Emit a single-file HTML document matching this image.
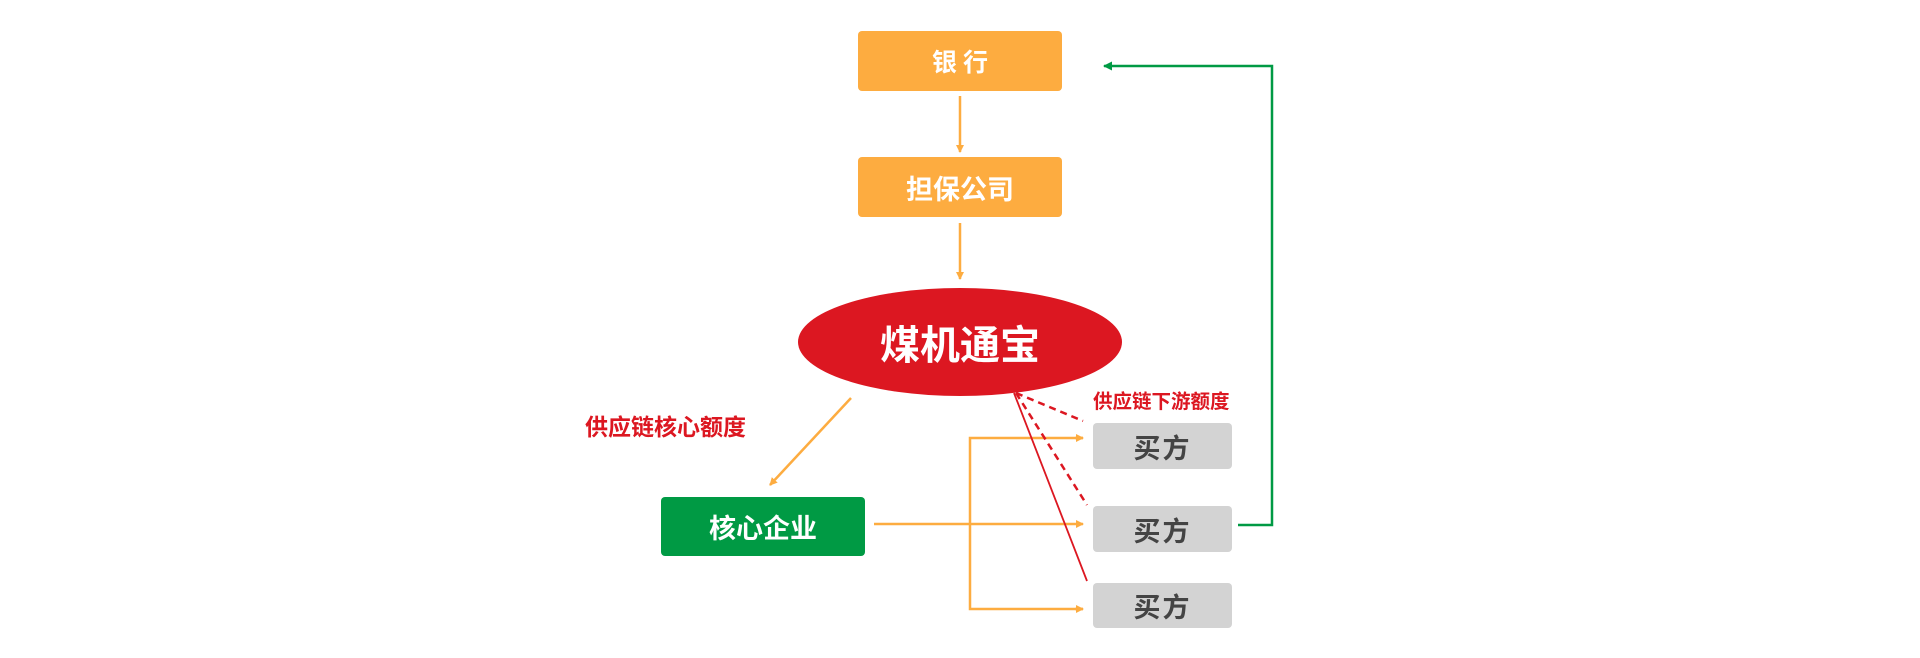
<!DOCTYPE html>
<html><head><meta charset="utf-8"><style>
html,body{margin:0;padding:0;background:#fff;}
body{width:1920px;height:658px;position:relative;overflow:hidden;font-family:"Liberation Sans","Noto Sans CJK SC",sans-serif;}
.b{position:absolute;display:flex;align-items:center;justify-content:center;font-weight:bold;border-radius:4px;}
.t{position:absolute;font-weight:bold;color:#DC1721;white-space:nowrap;}
</style></head><body>
<svg width="1920" height="658" style="position:absolute;left:0;top:0">
<defs>
<marker id="ao" markerWidth="8" markerHeight="8" refX="7" refY="4" orient="auto" markerUnits="userSpaceOnUse"><path d="M0,0 L8,4 L0,8 z" fill="#FDAC40"/></marker>
<marker id="ag" markerWidth="9" markerHeight="9" refX="8" refY="4.5" orient="auto" markerUnits="userSpaceOnUse"><path d="M0,0 L9,4.5 L0,9 z" fill="#009A44"/></marker>
</defs>
<line x1="960" y1="96" x2="960" y2="152" stroke="#FDAC40" stroke-width="2.5" marker-end="url(#ao)"/>
<line x1="960" y1="223" x2="960" y2="279" stroke="#FDAC40" stroke-width="2.5" marker-end="url(#ao)"/>
<ellipse cx="960" cy="342" rx="162" ry="54" fill="#DC1721"/>
<line x1="851" y1="398" x2="770" y2="485" stroke="#FDAC40" stroke-width="2.5" marker-end="url(#ao)"/>
<line x1="874" y1="524" x2="1083" y2="524" stroke="#FDAC40" stroke-width="2.5" marker-end="url(#ao)"/>
<polyline points="1083,438 970,438 970,609 1083,609" fill="none" stroke="#FDAC40" stroke-width="2.5"/>
<line x1="1075" y1="438" x2="1083" y2="438" stroke="#FDAC40" stroke-width="2.5" marker-end="url(#ao)"/>
<line x1="1075" y1="609" x2="1083" y2="609" stroke="#FDAC40" stroke-width="2.5" marker-end="url(#ao)"/>
<line x1="1016" y1="393" x2="1083" y2="421" stroke="#DC1721" stroke-width="2.5" stroke-dasharray="7,5"/>
<line x1="1016" y1="393" x2="1087" y2="505" stroke="#DC1721" stroke-width="2.5" stroke-dasharray="7,5"/>
<line x1="1014" y1="393" x2="1087" y2="581" stroke="#DC1721" stroke-width="1.8"/>
<polyline points="1238,525 1272,525 1272,66 1112,66" fill="none" stroke="#009A44" stroke-width="2.5"/>
<line x1="1112" y1="66" x2="1104" y2="66" stroke="#009A44" stroke-width="2.5" marker-end="url(#ag)"/>
</svg>
<div class="b" style="left:858px;top:31px;width:204px;height:60px;background:#FDAC40;color:#fff;font-size:25px;letter-spacing:6px;text-indent:6px;">银行</div>
<div class="b" style="left:858px;top:157px;width:204px;height:60px;background:#FDAC40;color:#fff;font-size:27px;">担保公司</div>
<div class="b" style="left:798px;top:290px;width:324px;height:104px;color:#fff;font-size:40px;">煤机通宝</div>
<div class="b" style="left:661px;top:497px;width:204px;height:59px;background:#009A44;color:#fff;font-size:27px;">核心企业</div>
<div class="b" style="left:1093px;top:423px;width:139px;height:46px;background:#D3D3D3;color:#444;font-size:27px;letter-spacing:2px;">买方</div>
<div class="b" style="left:1093px;top:506px;width:139px;height:46px;background:#D3D3D3;color:#444;font-size:27px;letter-spacing:2px;">买方</div>
<div class="b" style="left:1093px;top:583px;width:139px;height:45px;background:#D3D3D3;color:#444;font-size:27px;letter-spacing:2px;">买方</div>
<div class="t" style="left:585px;top:412px;font-size:23px;line-height:30px;">供应链核心额度</div>
<div class="t" style="left:1093px;top:390px;font-size:19.5px;line-height:24px;">供应链下游额度</div>
</body></html>
